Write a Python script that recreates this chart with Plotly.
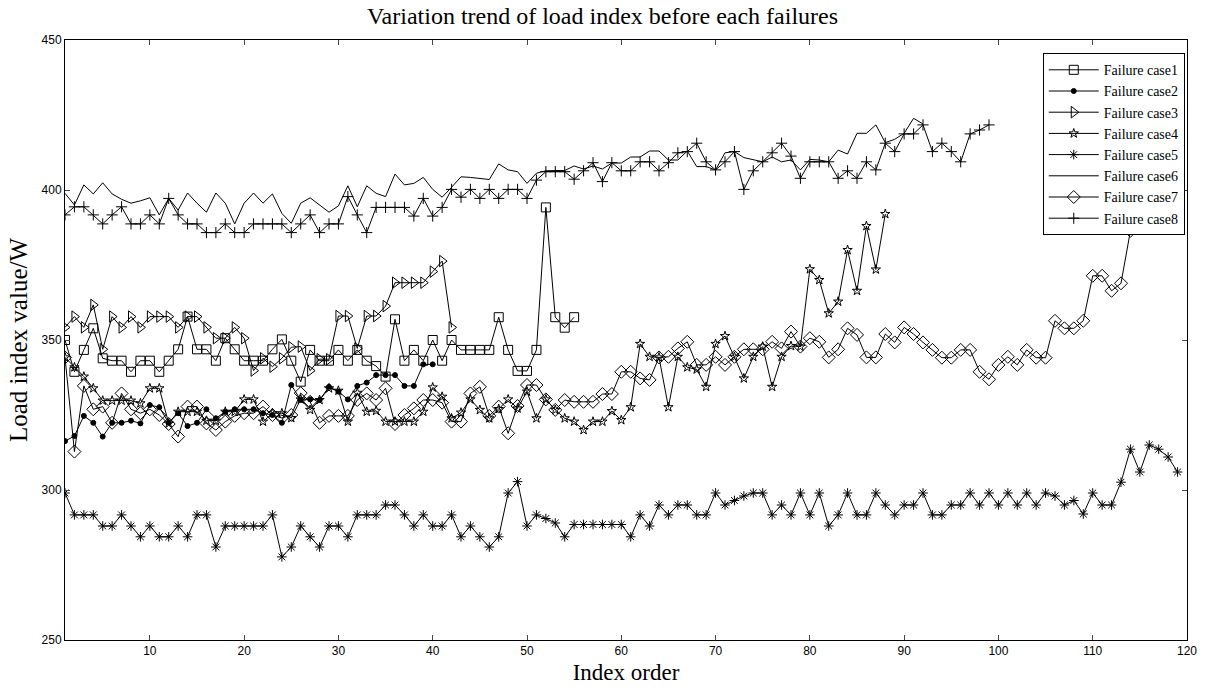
import plotly.graph_objects as go

case1 = [350, 339.4, 346.7, 353.9, 343.9, 343.1, 343.1, 339.4, 343.1, 343.1,
         339.4, 343.1, 346.9, 357.8, 346.9, 346.9, 343.1, 350.6, 346.9, 343.1,
         343.1, 343.1, 346.9, 350.2, 343.1, 336.1, 346.7, 343.1, 343.1, 346.7,
         343.1, 346.7, 343.1, 341.3, 337.8, 356.9, 343.1, 346.7, 343.1, 350,
         343.1, 350, 346.7, 346.7, 346.7, 346.7, 357.6, 346.7, 339.7, 339.7,
         346.7, 394.2, 357.6, 354.1, 357.6]
case2 = [316.3, 318, 324.7, 322.4, 317.8, 322.4, 322.4, 323.1, 322.2, 328.3,
         327.6, 322.4, 325.6, 321.3, 322.4, 326.9, 323.9, 326.1, 326.9, 326.9,
         326.9, 325.6, 325, 322.4, 335, 330, 330.2, 330, 334.4, 332.8,
         330.2, 334.7, 335.8, 338.3, 338.3, 338.3, 334.7, 334.7, 341.9, 341.9]
case3 = [354.2, 357.8, 354.2, 361.7, 346.9, 357.8, 354.2, 357.8, 354.2, 357.8,
         357.8, 357.8, 354.2, 357.8, 357.8, 354.2, 350.6, 350.6, 354.2, 350.6,
         339.8, 343.9, 341.1, 343.9, 347.6, 347.8, 339.8, 343.6, 343.6, 358,
         358, 347.2, 358, 358, 361.3, 369.1, 369.1, 369.1, 369.1, 372.8,
         376.3, 354.2]
case4 = [344.2, 340.9, 337.8, 333.9, 329.8, 329.8, 329.8, 329.8, 328.9, 333.9,
         333.9, 322.2, 326.1, 326.1, 326.1, 323.1, 323.1, 326.1, 326.1, 330.2,
         330.2, 322.8, 325.6, 325.6, 324, 330.2, 326.7, 330, 333.9, 333.1,
         322.8, 332.4, 326.1, 326.4, 322.8, 322.8, 322.8, 322.8, 326.1, 334.2,
         331.1, 323.9, 325.8, 330.2, 326.7, 323.9, 327, 330.2, 327.2, 332.8,
         323.9, 330.2, 326.7, 323.9, 322.8, 320, 322.8, 322.8, 326.3, 323.3,
         327.6, 348.7, 344.4, 344.2, 327.6, 344.4, 340.9, 340.2, 334.4, 348.7,
         351.3, 344.4, 337.2, 344.4, 347.8, 334.4, 344.4, 348, 347.8, 373.6,
         370, 358.9, 362.8, 380, 366.4, 388, 373.5, 392]
case5 = [299, 291.7, 291.7, 291.7, 288, 288, 291.7, 288, 284.4, 288,
         284.4, 284.4, 288, 284.4, 291.7, 291.7, 281, 288, 288, 288,
         288, 288, 291.7, 277.7, 281, 288, 284.4, 281, 288, 288,
         284.4, 291.7, 291.7, 291.7, 295, 295, 291.7, 288, 291.7, 288,
         288, 291.7, 284.4, 288, 284.4, 281, 284.4, 299, 302.8, 288,
         291.7, 290.5, 289, 284.4, 288.5, 288.5, 288.5, 288.5, 288.5, 288.5,
         284.4, 291.7, 288, 295, 291.7, 295, 295, 291.7, 291.7, 299,
         295, 296.5, 298, 299, 299, 291.7, 295, 291.7, 299, 291.7,
         299, 288, 291.7, 299, 291.7, 291.7, 299, 295, 291.7, 295,
         295, 299, 291.7, 291.7, 295, 295, 299, 295, 299, 295,
         299, 295, 299, 295, 299, 298, 295, 296.5, 292, 299,
         295, 295, 302.6, 313.6, 306, 315, 313.6, 311, 306]
case6 = [398.9, 395, 401.7, 398.7, 402.4, 398.7, 396.9, 395.6, 396.4, 397.4,
         391.7, 397.2, 393.3, 399, 395.6, 392.6, 399, 395.6, 388.7, 395.6,
         399, 395.6, 398.7, 392.2, 388.9, 395.6, 397.4, 395, 392.6, 394.7,
         401.4, 394.4, 401.4, 398.9, 397.8, 405.3, 401.7, 402.2, 404.2, 400.2,
         397.6, 400.9, 404.4, 404.2, 403.8, 403.5, 408.7, 406.7, 406.1, 402.2,
         405.6, 406.4, 406.5, 406.5, 408, 407, 408, 407, 409, 409,
         411, 411, 413, 413, 410, 410, 413, 407.8, 407.8, 406.7,
         412.4, 412.8, 410.8, 410, 409.4, 411, 409.4, 410, 406.7, 410.2,
         410, 409.4, 413.3, 412, 418.9, 418.9, 421.7, 415.8, 416.9, 418.9,
         423.9, 422]
case7 = [344.2, 312.8, 334.7, 326.9, 327.8, 322.4, 332.2, 326.9, 325.6, 326.9,
         325, 322, 317.8, 327.8, 327.8, 322.2, 320, 322.8, 324.7, 325.6,
         325.6, 327.8, 325, 324, 325, 332.3, 329.4, 322.4, 324.7, 324.7,
         324.7, 330, 332.2, 330, 333.9, 322, 325, 327.2, 330, 330,
         329.1, 322.8, 322.8, 332.2, 334.4, 324.7, 327.8, 318.9, 328, 335,
         335, 330.2, 326.7, 330, 329.4, 329.4, 329.4, 332, 332, 339.4,
         339.4, 337.2, 336.7, 344.2, 344.4, 347.2, 349.4, 341.7, 341.7, 344.4,
         341.7, 344.4, 346.9, 346.9, 346.9, 349.4, 347.2, 352.8, 347.8, 350.6,
         349.4, 344.2, 346.9, 353.9, 351.7, 344.2, 344.2, 352, 349.2, 354.2,
         352, 349.2, 346.7, 344.1, 344.1, 346.7, 346.7, 339.4, 336.9, 341.7,
         344.4, 341.7, 346.7, 344.1, 344.1, 356.4, 353.9, 353.9, 356.4, 371.4,
         371.4, 366.4, 368.9, 386.4]
case8 = [391.7, 394.4, 394.4, 391.7, 388.7, 391.7, 394.4, 388.7, 388.7, 391.7,
         388.7, 397.2, 391.7, 388.7, 388.7, 385.8, 385.8, 388.7, 385.8, 385.8,
         388.7, 388.7, 388.7, 388.7, 385.8, 388.7, 391.7, 385.8, 388.7, 388.7,
         397.8, 391.7, 385.8, 394.2, 394.2, 394.2, 394.2, 391.3, 397.2, 391.3,
         394.2, 400.2, 397.6, 400.2, 397.2, 400.2, 397.2, 400.2, 400.2, 397.2,
         403.3, 406.1, 406.1, 406.1, 403.6, 406.4, 409.1, 402.8, 409.1, 406.4,
         406.4, 409.4, 409.4, 406.4, 409.1, 412.4, 412.8, 415.6, 409.4, 406.7,
         409.4, 412.8, 400.2, 406.4, 409.4, 412.4, 415.6, 411.3, 403.9, 409.4,
         409.4, 409.4, 403.9, 406.4, 403.9, 409.4, 406.7, 415.6, 412.8, 418.7,
         418.7, 421.7, 412.8, 415.6, 412.8, 409.4, 418.7, 420, 421.7]

names = ["Failure case1", "Failure case2", "Failure case3", "Failure case4",
         "Failure case5", "Failure case6", "Failure case7", "Failure case8"]
series = [case1, case2, case3, case4, case5, case6, case7, case8]
symbols = ["square-open", "circle", "triangle-right-open", "star-open",
           "asterisk", None, "diamond-open", "cross-thin"]
sizes = [9, 5, 10, 7, 8, 0, 10, 8]

xticks = [10, 20, 30, 40, 50, 60, 70, 80, 90, 100, 110, 120]
yticks = [250, 300, 350, 400, 450]

serif = "Liberation Serif, Times New Roman, serif"

fig = go.Figure()
for name, ys, sym, sz in zip(names, series, symbols, sizes):
    xs = list(range(1, len(ys) + 1))
    if sym is None:
        fig.add_trace(go.Scatter(x=xs, y=ys, name=name, mode="lines",
                                 line=dict(color="black", width=1)))
    else:
        fig.add_trace(go.Scatter(
            x=xs, y=ys, name=name, mode="lines+markers",
            line=dict(color="black", width=1),
            marker=dict(symbol=sym, size=sz, color="black",
                        line=dict(color="black", width=1))))

fig.update_layout(
    width=1205, height=689,
    margin=dict(l=65, r=18, t=40, b=49),
    paper_bgcolor="white", plot_bgcolor="white",
    title=dict(text="Variation trend of load index before each failures",
               x=0.5, xanchor="center", y=0.978, yanchor="middle",
               font=dict(family=serif, size=24, color="black")),
    showlegend=True,
    legend=dict(x=0.998, y=0.978, xanchor="right", yanchor="top",
                bordercolor="black", borderwidth=1, bgcolor="white",
                font=dict(family=serif, size=14, color="black"),
                tracegroupgap=0, itemwidth=50),
    xaxis=dict(range=[1, 120], tickvals=xticks, ticks="inside", ticklen=5,
               showline=True, linecolor="black", linewidth=1, mirror="allticks",
               showgrid=False, zeroline=False, automargin=False,
               tickfont=dict(family="Liberation Sans, Arial", size=12, color="black"),
               title=dict(text="Index order", standoff=6,
                          font=dict(family=serif, size=23, color="black"))),
    yaxis=dict(range=[250, 450], tickvals=yticks, ticks="inside", ticklen=5,
               showline=True, linecolor="black", linewidth=1, mirror="allticks",
               showgrid=False, zeroline=False, automargin=False,
               tickfont=dict(family="Liberation Sans, Arial", size=12, color="black"),
               title=dict(text="Load index value/W", standoff=6,
                          font=dict(family=serif, size=25, color="black"))),
)

fig.write_html("out.html")
